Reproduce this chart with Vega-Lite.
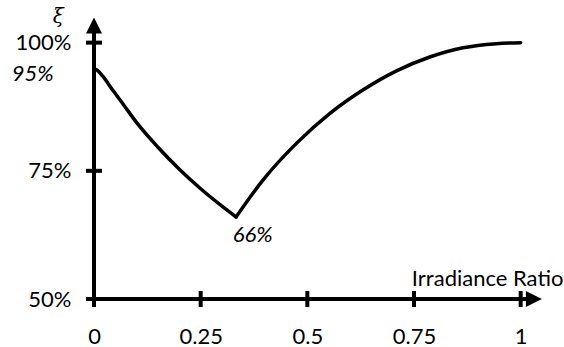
{
  "$schema": "https://vega.github.io/schema/vega-lite/v6.json",
  "width": 448,
  "height": 282,
  "autosize": "none",
  "padding": {"left": 94, "top": 17, "right": 22, "bottom": 48},
  "background": "white",
  "config": {
    "view": {"stroke": null},
    "font": "Lato",
    "axis": {"labelFont": "Lato", "labelFontSize": 22, "labelColor": "black", "domain": false, "ticks": false, "grid": false, "title": null}
  },
  "layer": [
    {
      "data": {"values": [
        {"seg": "a", "ratio": 0, "xi": 95},
        {"seg": "a", "ratio": 0.008, "xi": 94.6},
        {"seg": "a", "ratio": 0.02, "xi": 93.5},
        {"seg": "a", "ratio": 0.045, "xi": 90.6},
        {"seg": "a", "ratio": 0.07, "xi": 87.8},
        {"seg": "a", "ratio": 0.1, "xi": 84.4},
        {"seg": "a", "ratio": 0.15, "xi": 79.6},
        {"seg": "a", "ratio": 0.2, "xi": 75.3},
        {"seg": "a", "ratio": 0.25, "xi": 71.5},
        {"seg": "a", "ratio": 0.3, "xi": 68.1},
        {"seg": "a", "ratio": 0.333, "xi": 66.0},
        {"seg": "b", "ratio": 0.333, "xi": 66.0},
        {"seg": "b", "ratio": 0.396, "xi": 73.2},
        {"seg": "b", "ratio": 0.475, "xi": 80.4},
        {"seg": "b", "ratio": 0.553, "xi": 86.2},
        {"seg": "b", "ratio": 0.631, "xi": 90.8},
        {"seg": "b", "ratio": 0.709, "xi": 94.5},
        {"seg": "b", "ratio": 0.787, "xi": 97.2},
        {"seg": "b", "ratio": 0.865, "xi": 99.0},
        {"seg": "b", "ratio": 0.943, "xi": 99.8},
        {"seg": "b", "ratio": 1.0, "xi": 100}
      ]},
      "mark": {"type": "line", "color": "black", "strokeWidth": 3.5, "interpolate": "monotone", "strokeJoin": "round", "strokeCap": "round"},
      "encoding": {
        "detail": {"field": "seg", "type": "nominal"},
        "x": {"field": "ratio", "type": "quantitative", "scale": {"domain": [0, 1.05], "nice": false, "zero": false},
              "axis": {"values": [0, 0.25, 0.5, 0.75, 1], "labelExpr": "'' + datum.value", "labelPadding": 27, "tickSize": 0, "labelFlush": false, "labelBaseline": "top"}},
        "y": {"field": "xi", "type": "quantitative", "scale": {"domain": [50, 105], "nice": false, "zero": false},
              "axis": {"values": [50, 75, 100], "labelExpr": "datum.value + '%'", "labelPadding": 23, "tickSize": 0, "labelFlush": false}}
      }
    },
    {
      "data": {"values": [{"a": 0, "b": 1.03, "c": 50}]},
      "mark": {"type": "rule", "color": "black", "strokeWidth": 4},
      "encoding": {"x": {"field": "a", "type": "quantitative"}, "x2": {"field": "b"}, "y": {"field": "c", "type": "quantitative"}}
    },
    {
      "data": {"values": [{"a": 0, "b": 48.7, "c": 103.3}]},
      "mark": {"type": "rule", "color": "black", "strokeWidth": 4},
      "encoding": {"x": {"field": "a", "type": "quantitative"}, "y": {"field": "b", "type": "quantitative"}, "y2": {"field": "c"}}
    },
    {
      "data": {"values": [{"t": 0}, {"t": 0.25}, {"t": 0.5}, {"t": 0.75}, {"t": 1}]},
      "mark": {"type": "tick", "orient": "vertical", "size": 16, "thickness": 4, "color": "black", "opacity": 1},
      "encoding": {"x": {"field": "t", "type": "quantitative"}, "y": {"datum": 50, "type": "quantitative"}}
    },
    {
      "data": {"values": [{"t": 50}, {"t": 75}, {"t": 100}]},
      "mark": {"type": "tick", "orient": "horizontal", "size": 16, "thickness": 4, "color": "black", "opacity": 1},
      "encoding": {"y": {"field": "t", "type": "quantitative"}, "x": {"datum": 0, "type": "quantitative"}}
    },
    {
      "data": {"values": [{"px": 0, "py": 103.34}]},
      "mark": {"type": "point", "shape": "M0,-1L-1,1L1,1Z", "size": 256, "filled": true, "color": "black", "opacity": 1},
      "encoding": {"x": {"field": "px", "type": "quantitative"}, "y": {"field": "py", "type": "quantitative"}}
    },
    {
      "data": {"values": [{"px": 1.031, "py": 50}]},
      "mark": {"type": "point", "shape": "M1,0L-1,-1L-1,1Z", "size": 256, "filled": true, "color": "black", "opacity": 1},
      "encoding": {"x": {"field": "px", "type": "quantitative"}, "y": {"field": "py", "type": "quantitative"}}
    },
    {
      "data": {"values": [
        {"lx": -0.1436, "ly": 93.9, "label": "95%"},
        {"lx": 0.372, "ly": 62.5, "label": "66%"}
      ]},
      "mark": {"type": "text", "font": "Lato", "fontSize": 22, "fontStyle": "italic", "align": "center", "baseline": "middle", "color": "black"},
      "encoding": {"x": {"field": "lx", "type": "quantitative"}, "y": {"field": "ly", "type": "quantitative"}, "text": {"field": "label"}}
    },
    {
      "data": {"values": [{"lx": 0.745, "ly": 53.9, "label": "Irradiance Ratio"}]},
      "mark": {"type": "text", "font": "Lato", "fontSize": 22, "align": "left", "baseline": "middle", "color": "black"},
      "encoding": {"x": {"field": "lx", "type": "quantitative"}, "y": {"field": "ly", "type": "quantitative"}, "text": {"field": "label"}}
    },
    {
      "data": {"values": [{"lx": -0.084, "ly": 105.0, "label": "ξ"}]},
      "mark": {"type": "text", "font": "DejaVu Serif", "fontSize": 20, "fontStyle": "italic", "align": "center", "baseline": "middle", "color": "black"},
      "encoding": {"x": {"field": "lx", "type": "quantitative"}, "y": {"field": "ly", "type": "quantitative"}, "text": {"field": "label"}}
    }
  ]
}
